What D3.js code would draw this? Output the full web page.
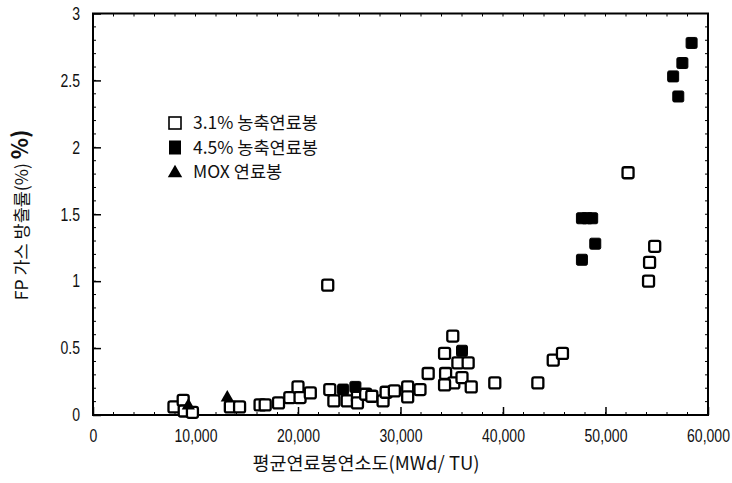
<!DOCTYPE html>
<html>
<head>
<meta charset="utf-8">
<script src="https://cdn.jsdelivr.net/npm/d3@7"></script>
<style>
  html, body { margin: 0; padding: 0; background: #fff; }
  svg { display: block; }
  .tick-label { font-family: "Liberation Sans", Arial, sans-serif; font-size: 18px; fill: #111; }
  .kor { font-family: "Noto Sans CJK KR", "Liberation Sans", sans-serif; fill: #111; }
</style>
</head>
<body>
<svg id="chart" width="732" height="483"></svg>
<script>
// Burnup (MWd/tU) vs FP gas release (%)
const enriched31 = [
  [7900, 0.06], [8800, 0.11], [8900, 0.03], [9700, 0.02],
  [13400, 0.06], [14300, 0.06], [16300, 0.075], [16800, 0.075],
  [18100, 0.09], [19200, 0.13], [20000, 0.21], [20200, 0.13],
  [21200, 0.165], [22900, 0.97], [23100, 0.19], [23500, 0.105],
  [24800, 0.105], [25800, 0.135], [25800, 0.09], [26600, 0.155],
  [27200, 0.14], [28300, 0.105], [28600, 0.17], [29400, 0.18],
  [30700, 0.21], [30700, 0.135], [31900, 0.19], [32700, 0.31],
  [34300, 0.46], [35100, 0.59], [35600, 0.39], [36600, 0.39],
  [34400, 0.31], [35200, 0.24], [36000, 0.28], [34300, 0.225],
  [36900, 0.21], [39200, 0.24], [43400, 0.24], [44900, 0.41],
  [45800, 0.46], [52200, 1.81], [54800, 1.26], [54300, 1.14],
  [54200, 1.0]
];
const enriched45 = [
  [24400, 0.19], [25600, 0.21], [36000, 0.48],
  [47700, 1.47], [48200, 1.47], [48700, 1.47], [49000, 1.28], [47700, 1.16],
  [58400, 2.78], [57500, 2.63], [56600, 2.53], [57100, 2.38]
];
const moxRods = [[9300, 0.07], [13100, 0.13]];

const xTicks = [0, 10000, 20000, 30000, 40000, 50000, 60000];
const yTicks = [0, 0.5, 1, 1.5, 2, 2.5, 3];
const legendLabels = ["3.1% 농축연료봉", "4.5% 농축연료봉", "MOX 연료봉"];

const svg = d3.select("#chart");
const L = 93, R = 708, T = 13.5, B = 415;
const x = d3.scaleLinear().domain([0, 60000]).range([L, R]);
const y = d3.scaleLinear().domain([0, 3]).range([B, T]);

// frame
svg.append("rect").attr("x", L).attr("y", T).attr("width", R - L).attr("height", B - T)
  .attr("fill", "none").attr("stroke", "#000").attr("stroke-width", 2);

// minor ticks
const minorY = d3.range(0, 3.001, 0.1);
svg.append("g").selectAll("line").data(minorY).join("line")
  .attr("x1", L).attr("x2", L + 3).attr("y1", d => y(d)).attr("y2", d => y(d))
  .attr("stroke", "#000").attr("stroke-width", 1);
svg.append("g").selectAll("line").data(minorY).join("line")
  .attr("x1", R).attr("x2", R - 3).attr("y1", d => y(d)).attr("y2", d => y(d))
  .attr("stroke", "#000").attr("stroke-width", 1);
const minorX = d3.range(0, 60001, 2000);
svg.append("g").selectAll("line").data(minorX).join("line")
  .attr("x1", d => x(d)).attr("x2", d => x(d)).attr("y1", B).attr("y2", B - 3)
  .attr("stroke", "#000").attr("stroke-width", 1);
svg.append("g").selectAll("line").data(minorX).join("line")
  .attr("x1", d => x(d)).attr("x2", d => x(d)).attr("y1", T).attr("y2", T + 3)
  .attr("stroke", "#000").attr("stroke-width", 1);

// major axes with inward ticks; labels use a narrowed sans
const fmt = d => d === 0 ? "0" : d3.format(",")(d);
const xAxis = svg.append("g").attr("transform", `translate(0,${B})`)
  .call(d3.axisBottom(x).tickValues(xTicks).tickSize(-8).tickPadding(14).tickFormat(fmt));
const yAxis = svg.append("g").attr("transform", `translate(${L},0)`)
  .call(d3.axisLeft(y).tickValues(yTicks).tickSize(-8).tickPadding(11).tickFormat(d => d3.format("")(d)));
[xAxis, yAxis].forEach(a => {
  a.select(".domain").remove();
  a.selectAll(".tick line").attr("stroke", "#000").attr("stroke-width", 1.5);
  a.selectAll(".tick text").attr("class", "tick-label").attr("fill", "#111")
    .attr("transform", "scale(0.78,1)");
});
// keep the right-aligned y labels ending at the same place after narrowing
yAxis.selectAll(".tick text").attr("x", -13 / 0.78);

// markers
const S = 11;
svg.append("g").selectAll("rect").data(enriched31).join("rect")
  .attr("x", d => x(d[0]) - S / 2).attr("y", d => y(d[1]) - S / 2)
  .attr("width", S).attr("height", S).attr("rx", 2)
  .attr("fill", "#fff").attr("stroke", "#000").attr("stroke-width", 2.3);
svg.append("g").selectAll("rect").data(enriched45).join("rect")
  .attr("x", d => x(d[0]) - S / 2).attr("y", d => y(d[1]) - S / 2)
  .attr("width", S).attr("height", S).attr("rx", 1.5)
  .attr("fill", "#000").attr("stroke", "#000").attr("stroke-width", 1);
const tri = d3.symbol().type(d3.symbolTriangle).size(75);
svg.append("g").selectAll("path").data(moxRods).join("path")
  .attr("d", tri).attr("transform", d => `translate(${x(d[0])},${y(d[1])})`)
  .attr("fill", "#000");

// legend
const lg = svg.append("g").attr("transform", "translate(168,123)");
legendLabels.forEach((t, i) => {
  const gy = i * 24.5;
  if (i === 0) lg.append("rect").attr("x", 1).attr("y", gy - 6).attr("width", 12).attr("height", 12)
    .attr("fill", "#fff").attr("stroke", "#000").attr("stroke-width", 1.6);
  if (i === 1) lg.append("rect").attr("x", 1).attr("y", gy - 7).attr("width", 12).attr("height", 14)
    .attr("fill", "#000");
  if (i === 2) lg.append("path").attr("d", d3.symbol().type(d3.symbolTriangle).size(90)())
    .attr("transform", `translate(7,${gy + 1})`).attr("fill", "#000");
  lg.append("text").attr("class", "kor").attr("x", 25).attr("y", gy + 6)
    .attr("font-size", 17.5).text(t);
});

// axis titles
svg.append("text").attr("class", "kor").attr("x", 366).attr("y", 470)
  .attr("text-anchor", "middle").attr("font-size", 18.5).text("평균연료봉연소도(MWd/ TU)");
const yt = svg.append("text").attr("class", "kor")
  .attr("transform", "translate(28,215) rotate(-90)").attr("text-anchor", "middle")
  .attr("font-size", 17.5);
yt.append("tspan").text("FP 가스 방출률(%) ");
yt.append("tspan").attr("font-weight", "bold").attr("font-size", 22).text("%)");
</script>
</body>
</html>
